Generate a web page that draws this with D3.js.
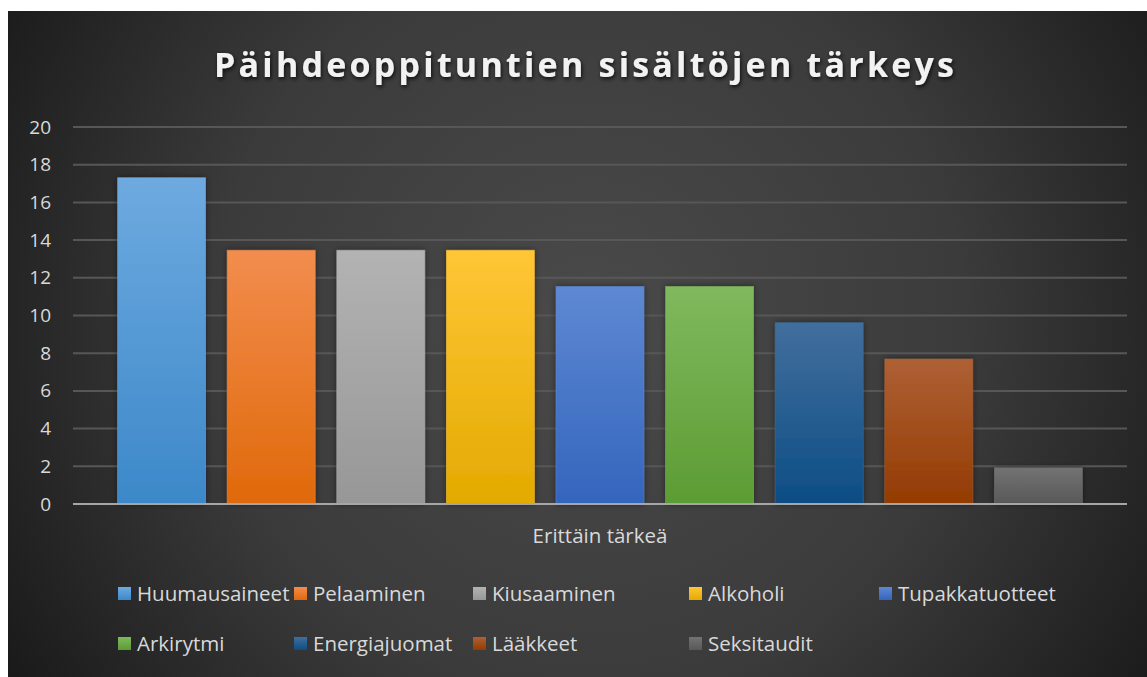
<!DOCTYPE html>
<html>
<head>
<meta charset="utf-8">
<script src="https://cdn.jsdelivr.net/npm/d3@7"></script>
<style>
  html, body { margin: 0; padding: 0; background: #fff; }
  svg { display: block; }
</style>
</head>
<body>
<div id="chart"></div>
<script>
// Päihdeoppituntien sisältöjen tärkeys - single category, nine series

const categories = ['Erittäin tärkeä'];
const seriesNames = ['Huumausaineet', 'Pelaaminen', 'Kiusaaminen', 'Alkoholi', 'Tupakkatuotteet',
  'Arkirytmi', 'Energiajuomat', 'Lääkkeet', 'Seksitaudit'];
const seriesValues = [17.31, 13.46, 13.46, 13.46, 11.54, 11.54, 9.62, 7.69, 1.92];
const yTicks = [0, 2, 4, 6, 8, 10, 12, 14, 16, 18, 20];

// top / bottom colours of each bar gradient
const colorTop = ['#6eaae0', '#f28d4e', '#b3b3b3', '#ffc637', '#5e88d2', '#80b95e', '#426f9d', '#ae6035', '#737373'];
const colorBottom = ['#3c88c9', '#e0690a', '#979797', '#e3aa00', '#3465bd', '#5c9c33', '#0c4d84', '#943b02', '#585858'];

const W = 1147, H = 677;
const plot = { left: 73, right: 1127, top: 127, bottom: 504 };
const FONT = '"Open Sans", Lato, sans-serif';

const svg = d3.select('#chart').append('svg')
  .attr('width', W)
  .attr('height', H)
  .style('font-family', FONT);

const defs = svg.append('defs');

const bg = defs.append('radialGradient')
  .attr('id', 'bg')
  .attr('gradientUnits', 'userSpaceOnUse')
  .attr('cx', 590).attr('cy', 320).attr('r', 680);
bg.append('stop').attr('offset', '0%').attr('stop-color', '#4a4a4a');
bg.append('stop').attr('offset', '55%').attr('stop-color', '#3b3b3b');
bg.append('stop').attr('offset', '100%').attr('stop-color', '#1a1a1a');

const shadow = defs.append('filter')
  .attr('id', 'shadow')
  .attr('x', '-20%').attr('y', '-20%').attr('width', '140%').attr('height', '140%');
shadow.append('feDropShadow')
  .attr('dx', 0).attr('dy', 0).attr('stdDeviation', 3)
  .attr('flood-color', '#000').attr('flood-opacity', 0.45);

const titleShadow = defs.append('filter').attr('id', 'tshadow');
titleShadow.append('feDropShadow')
  .attr('dx', 1).attr('dy', 2).attr('stdDeviation', 2)
  .attr('flood-color', '#000').attr('flood-opacity', 0.8);

seriesNames.forEach((s, i) => {
  const g = defs.append('linearGradient')
    .attr('id', 'bar' + i)
    .attr('x1', 0).attr('y1', 0).attr('x2', 0).attr('y2', 1);
  g.append('stop').attr('offset', '0%').attr('stop-color', colorTop[i]);
  g.append('stop').attr('offset', '100%').attr('stop-color', colorBottom[i]);
});

// background panel (white margin at top/left as in the screenshot)
svg.append('rect')
  .attr('x', 8).attr('y', 11)
  .attr('width', W - 8).attr('height', H - 11)
  .attr('fill', 'url(#bg)');

const y = d3.scaleLinear()
  .domain([0, 20])
  .range([plot.bottom, plot.top]);

const x0 = d3.scaleBand()
  .domain(categories)
  .range([plot.left, plot.right]);

const x = d3.scaleBand()
  .domain(seriesNames)
  .range([x0(categories[0]), x0(categories[0]) + x0.bandwidth()])
  .paddingInner(0.197)
  .paddingOuter(0.407);

// gridlines
svg.append('g')
  .selectAll('line')
  .data(yTicks.filter(t => t > 0))
  .enter().append('line')
  .attr('x1', plot.left).attr('x2', plot.right)
  .attr('y1', d => y(d)).attr('y2', d => y(d))
  .attr('stroke', '#575757')
  .attr('stroke-width', 2);

// y axis labels
const yAxis = svg.append('g')
  .attr('transform', `translate(${plot.left},0)`)
  .call(d3.axisLeft(y).tickValues(yTicks).tickSize(0).tickPadding(22));
yAxis.select('.domain').remove();
yAxis.selectAll('text')
  .attr('fill', '#d9d9d9')
  .style('font-size', '19px')
  .style('font-family', FONT);

// bars
svg.append('g')
  .selectAll('rect')
  .data(seriesValues)
  .enter().append('rect')
  .attr('x', (d, i) => x(seriesNames[i]))
  .attr('y', d => y(d))
  .attr('width', x.bandwidth())
  .attr('height', d => y(0) - y(d))
  .attr('fill', (d, i) => `url(#bar${i})`)
  .attr('stroke', (d, i) => colorTop[i])
  .attr('stroke-opacity', 0.6)
  .attr('stroke-width', 0.8)
  .attr('filter', 'url(#shadow)');

// zero axis line
svg.append('line')
  .attr('x1', plot.left).attr('x2', plot.right)
  .attr('y1', y(0)).attr('y2', y(0))
  .attr('stroke', '#a6a6a6')
  .attr('stroke-width', 2);

// category label
svg.append('text')
  .attr('x', x0(categories[0]) + x0.bandwidth() / 2)
  .attr('y', 543)
  .attr('text-anchor', 'middle')
  .attr('fill', '#d9d9d9')
  .style('font-size', '20.5px')
  .text(categories[0]);

// title
svg.append('text')
  .attr('x', 584)
  .attr('y', 77)
  .attr('text-anchor', 'middle')
  .attr('fill', '#f2f2f2')
  .attr('filter', 'url(#tshadow)')
  .attr('textLength', 740)
  .attr('lengthAdjust', 'spacing')
  .style('font-size', '34px')
  .style('font-weight', 'bold')
  .text('Päihdeoppituntien sisältöjen tärkeys');

// legend: five columns, two rows
const legendCols = [118, 294, 473, 689, 879];
const legendRows = [594, 644];
const legend = svg.append('g')
  .selectAll('g')
  .data(seriesNames)
  .enter().append('g')
  .attr('transform', (d, i) => `translate(${legendCols[i % 5]},${legendRows[Math.floor(i / 5)]})`);

legend.append('rect')
  .attr('x', 0).attr('y', -7)
  .attr('width', 13).attr('height', 13)
  .attr('fill', (d, i) => `url(#bar${i})`);

legend.append('text')
  .attr('x', 19)
  .attr('y', 0)
  .attr('dy', '0.35em')
  .attr('fill', '#d9d9d9')
  .style('font-size', '20.5px')
  .text(d => d);
</script>
</body>
</html>
